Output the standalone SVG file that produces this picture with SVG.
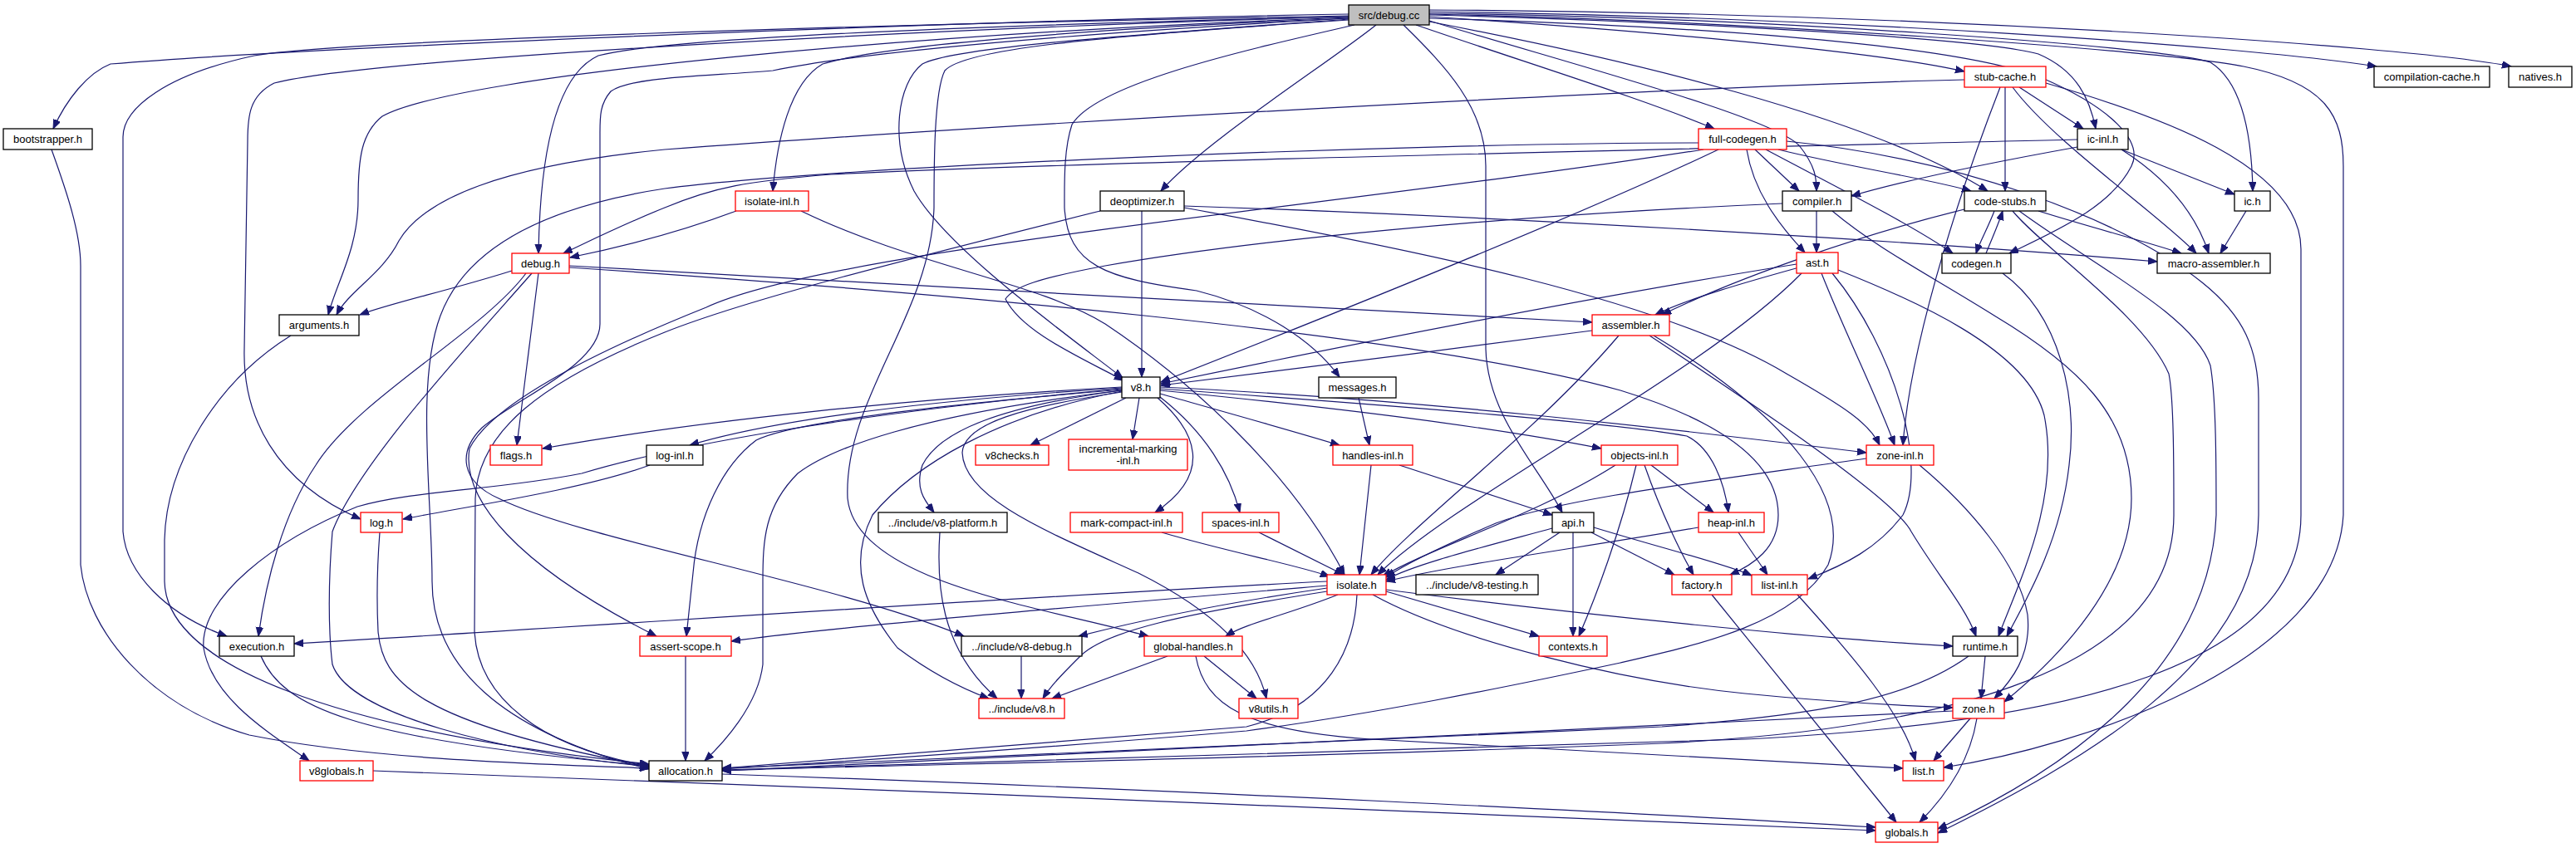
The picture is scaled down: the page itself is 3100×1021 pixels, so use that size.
<svg xmlns="http://www.w3.org/2000/svg" width="3100" height="1021" viewBox="0 0 3100 1021">
<style>
.n rect{fill:#fff;stroke:#000;stroke-width:1.3}
.r rect{stroke:#f00}
.g rect{fill:#bfbfbf}
text{font-family:"Liberation Sans",Arial,sans-serif;font-size:13px;text-anchor:middle;fill:#000}
.e path{fill:none;stroke:#191970;stroke-width:1.2;marker-end:url(#a)}
</style>
<defs>
<marker id="a" markerWidth="13" markerHeight="10" refX="11" refY="4.25" orient="auto" markerUnits="userSpaceOnUse"><path d="M0,0 L11,4.25 L0,8.5 z" fill="#191970" stroke="#191970" stroke-width="1"/></marker>
</defs>
<rect width="3100" height="1021" fill="#fff"/>
<g class="e" id="edges">
<path d="M1623,17 C1200,24 400,55 133,77 C105,88 80,120 64,155"/>
<path d="M1623,19 C1000,30 400,50 306,67 C200,90 148,130 148,165 L148,640 C152,690 200,740 273,766"/>
<path d="M1623,20 C1100,35 450,70 330,100 C300,115 298,140 298,170 L294,420 C292,500 330,580 434,625"/>
<path d="M1623,21 C1100,40 550,90 460,140 C435,160 431,190 431,240 C431,300 405,340 395,379"/>
<path d="M1623,20 C1200,30 800,45 720,67 C670,90 650,180 648,305"/>
<path d="M1623,22 C1300,40 1050,60 930,85 C850,92 760,92 735,110 C722,125 722,140 722,160 L722,390 C722,440 620,480 580,515 C550,545 555,580 600,600 C700,650 1000,700 1160,766"/>
<path d="M1623,22 C1300,35 1060,55 990,77 C950,100 935,170 930,230"/>
<path d="M1623,23 C1400,40 1150,55 1110,77 C1080,100 1070,170 1100,230 C1140,300 1280,400 1351,455"/>
<path d="M1623,24 C1300,45 1160,60 1137,85 C1124,110 1124,200 1124,250 C1120,380 1015,480 1020,600 C1030,700 1250,730 1382,766"/>
<path d="M1630,30 C1500,60 1320,100 1290,150 C1280,180 1281,220 1281,250 C1285,320 1330,335 1440,350 C1520,370 1580,410 1612,454"/>
<path d="M1656,30 C1600,75 1450,170 1397,230"/>
<path d="M1689,30 C1740,80 1788,130 1788,200 L1788,420 C1790,500 1850,560 1880,617"/>
<path d="M1704,30 C1850,80 1980,120 2063,155"/>
<path d="M1720,25 C1900,80 2130,140 2165,175 C2185,200 2186,215 2186,230"/>
<path d="M1720,20 C1950,35 2250,60 2364,86"/>
<path d="M1720,26 C1950,70 2250,140 2392,230"/>
<path d="M1720,22 C2000,30 2350,50 2460,95 C2540,130 2580,170 2565,200 C2540,250 2470,280 2418,305"/>
<path d="M1720,18 C2000,25 2380,45 2453,65 C2500,85 2515,120 2522,155"/>
<path d="M1720,16 C2100,20 2600,55 2660,75 C2700,100 2710,170 2711,230"/>
<path d="M1720,14 C2200,20 2700,55 2860,80"/>
<path d="M1720,12 C2300,15 2900,55 3022,80"/>
<path d="M1720,17 C2100,25 2600,60 2700,80 C2800,100 2820,140 2820,200 L2820,620 C2810,800 2500,900 2339,924"/>
<path d="M62,180 C80,230 97,280 97,320 L97,680 C105,760 180,850 300,885 C450,915 650,920 781,925"/>
<path d="M2364,96 C2000,105 1200,150 800,180 C600,200 510,240 480,290 C460,330 420,350 405,379"/>
<path d="M616,326 C540,350 470,365 433,379"/>
<path d="M886,254 C830,275 760,295 686,310"/>
<path d="M2500,168 C2000,180 1300,195 1000,210 C900,218 860,225 800,250 C750,270 710,290 678,305"/>
<path d="M2500,177 C2400,195 2300,215 2228,236"/>
<path d="M2553,180 L2689,234"/>
<path d="M2553,180 C2600,210 2640,250 2658,305"/>
<path d="M2703,254 L2672,305"/>
<path d="M2430,105 L2507,155"/>
<path d="M2413,105 L2413,230"/>
<path d="M2422,105 C2470,170 2600,260 2643,305"/>
<path d="M2407,105 C2370,200 2300,400 2290,536"/>
<path d="M2462,100 C2600,140 2769,200 2769,300 L2769,620 C2769,800 2500,870 2100,890 C1500,910 1000,920 869,927"/>
<path d="M2400,254 C2392,275 2383,290 2378,305"/>
<path d="M2390,305 C2398,285 2405,270 2410,254"/>
<path d="M2453,254 C2520,275 2580,290 2625,305"/>
<path d="M2364,252 C2250,280 2100,330 2000,379"/>
<path d="M2422,254 C2460,300 2580,380 2610,450 C2616,480 2616,560 2616,620 C2616,820 2300,880 2000,895 C1500,915 1000,922 869,928"/>
<path d="M2430,254 C2520,320 2640,380 2660,440 C2667,480 2667,560 2667,620 C2660,800 2500,920 2332,998"/>
<path d="M2410,329 C2480,380 2500,480 2490,560 C2480,650 2440,720 2415,766"/>
<path d="M2140,180 C2220,200 2320,215 2372,230"/>
<path d="M2125,180 C2200,220 2300,270 2350,305"/>
<path d="M2112,180 L2165,230"/>
<path d="M2102,180 C2110,230 2140,270 2172,304"/>
<path d="M2068,180 C1900,260 1600,380 1397,460"/>
<path d="M2044,172 C1700,172 1000,200 800,227 C650,250 560,300 530,380 C500,460 520,600 520,700 C520,800 600,880 781,926"/>
<path d="M2050,180 C1600,250 1000,300 850,370 C700,430 590,490 565,540 C555,600 620,680 790,766"/>
<path d="M2150,170 C2350,190 2550,260 2650,340 C2700,380 2718,420 2718,480 L2718,620 C2718,800 2500,920 2332,1003"/>
<path d="M2186,254 L2186,304"/>
<path d="M2205,254 C2260,300 2320,330 2400,380 C2500,440 2565,500 2565,600 C2565,700 2480,790 2412,845"/>
<path d="M2145,245 C1800,260 1500,290 1330,320 C1250,335 1220,345 1210,360 C1230,400 1300,430 1352,458"/>
<path d="M2165,322 C2100,340 2030,360 1992,379"/>
<path d="M2162,318 C1900,360 1600,420 1397,462"/>
<path d="M2168,329 C2050,450 1750,600 1658,692"/>
<path d="M2192,329 C2220,400 2260,480 2280,536"/>
<path d="M2205,329 C2280,420 2320,560 2290,620 C2260,660 2220,680 2176,697"/>
<path d="M2212,325 C2300,360 2440,420 2460,500 C2480,600 2430,700 2405,766"/>
<path d="M1916,398 C1750,420 1550,445 1397,464"/>
<path d="M1948,404 C1850,520 1700,630 1650,692"/>
<path d="M1985,404 C2100,480 2280,600 2300,640 C2330,690 2365,730 2378,766"/>
<path d="M1990,404 C2150,500 2230,600 2200,680 C2160,750 2050,775 1950,798 C1800,830 1650,860 1500,880 C1200,905 1000,918 869,926"/>
<path d="M1374,254 L1374,454"/>
<path d="M1425,248 C1800,260 2300,290 2596,315"/>
<path d="M1425,250 C1700,300 2000,360 2150,450 C2220,490 2250,510 2262,536"/>
<path d="M1324,254 C1100,310 900,360 800,400 C650,460 575,520 572,600 L571,760 C575,840 650,900 781,922"/>
<path d="M964,254 C1100,320 1250,340 1330,390 C1420,450 1550,560 1618,692"/>
<path d="M1635,479 L1648,536"/>
<path d="M1684,560 L1868,620"/>
<path d="M1650,560 L1636,692"/>
<path d="M1944,560 C1850,620 1720,660 1664,694"/>
<path d="M1969,560 C1950,640 1920,720 1900,766"/>
<path d="M1979,560 C2000,620 2025,670 2038,692"/>
<path d="M1987,560 L2062,617"/>
<path d="M2044,635 C1900,660 1750,680 1668,700"/>
<path d="M2092,641 L2127,692"/>
<path d="M2246,552 C2050,580 1880,600 1800,630 C1730,660 1690,680 1668,695"/>
<path d="M2310,560 C2370,610 2430,680 2440,740 C2445,790 2420,820 2400,841"/>
<path d="M1868,636 C1780,660 1700,680 1668,698"/>
<path d="M1877,641 L1800,692"/>
<path d="M1893,641 L1893,766"/>
<path d="M1915,641 L2015,692"/>
<path d="M1918,635 C2000,660 2080,680 2108,693"/>
<path d="M1398,641 C1480,665 1560,680 1600,694"/>
<path d="M1515,641 L1617,692"/>
<path d="M1350,466 C1100,480 850,505 653,540"/>
<path d="M1350,467 C1150,480 950,500 830,536"/>
<path d="M1350,468 C1000,500 800,540 700,570 C600,590 500,590 430,610 C330,650 240,720 245,780 C255,840 320,880 372,916"/>
<path d="M1350,469 C1100,490 950,510 910,530 C870,560 840,620 834,690 L826,766"/>
<path d="M1350,470 C1100,500 1000,540 960,570 C920,610 918,650 918,700 L918,800 C912,850 870,895 848,916"/>
<path d="M1350,471 C1200,500 1100,560 1050,620 C1020,680 1040,730 1080,780 C1120,810 1160,830 1190,841"/>
<path d="M1350,470 C1200,490 1130,520 1110,560 C1100,590 1115,605 1124,617"/>
<path d="M1355,479 L1240,536"/>
<path d="M1371,479 L1363,529"/>
<path d="M1393,479 C1440,520 1460,570 1390,617"/>
<path d="M1396,478 C1450,520 1480,570 1492,617"/>
<path d="M1396,474 C1470,495 1560,520 1612,536"/>
<path d="M1396,470 C1600,490 1800,515 1927,540"/>
<path d="M1396,466 C1700,480 2000,515 2246,545"/>
<path d="M1396,468 C1700,490 1950,510 2030,525 C2060,540 2075,580 2080,617"/>
<path d="M1350,472 C1230,490 1160,510 1158,545 C1160,600 1260,640 1370,690 C1450,730 1510,780 1524,841"/>
<path d="M782,560 C700,590 560,610 485,625"/>
<path d="M457,641 C454,680 453,720 455,760 C460,820 500,870 781,923"/>
<path d="M633,329 C580,400 430,480 380,560 C340,620 320,700 311,766"/>
<path d="M640,329 C560,420 430,560 400,640 C395,700 395,760 400,800 C420,860 600,905 781,923"/>
<path d="M648,329 L622,536"/>
<path d="M685,320 C1000,340 1600,370 1916,388"/>
<path d="M685,322 C1100,350 1700,400 1950,470 C2080,510 2140,560 2140,620 C2140,660 2110,680 2082,692"/>
<path d="M350,404 C260,460 200,560 198,650 L198,700 C200,800 400,880 781,920"/>
<path d="M314,790 C340,850 420,890 781,922"/>
<path d="M825,790 L825,916"/>
<path d="M449,928 C1000,950 2000,985 2257,1000"/>
<path d="M869,932 C1400,950 2000,980 2257,996"/>
<path d="M1597,700 C1200,720 700,755 354,775"/>
<path d="M1597,705 C1300,730 1000,755 880,772"/>
<path d="M1597,708 C1480,725 1380,745 1298,766"/>
<path d="M1597,712 C1420,740 1330,760 1300,790 C1280,810 1265,825 1255,841"/>
<path d="M1610,716 C1550,740 1500,750 1475,766"/>
<path d="M1668,712 L1852,766"/>
<path d="M1668,710 C1900,740 2200,770 2350,778"/>
<path d="M1652,716 C1750,770 1950,820 2100,835 C2200,845 2300,850 2350,852"/>
<path d="M1633,716 C1630,780 1600,850 1500,875 C1200,900 1000,915 869,925"/>
<path d="M1229,790 L1229,841"/>
<path d="M1131,641 C1127,700 1130,780 1200,841"/>
<path d="M1405,790 L1266,841"/>
<path d="M1449,790 L1512,841"/>
<path d="M1439,790 C1450,850 1500,880 1650,890 C1900,905 2150,918 2290,925"/>
<path d="M2060,716 L2282,990"/>
<path d="M2163,716 C2230,790 2290,860 2305,916"/>
<path d="M2371,865 L2327,916"/>
<path d="M2379,865 C2370,920 2340,960 2310,990"/>
<path d="M2350,856 C1900,880 1300,905 869,928"/>
<path d="M2369,790 C2300,840 2200,860 2000,875 C1500,900 1000,918 869,925"/>
<path d="M2389,790 L2384,841"/>
</g>
<g id="n_dc" class="n g"><rect x="1623" y="6" width="97" height="24"/><text x="1671.5" y="22.5">src/debug.cc</text></g>
<g id="n_boot" class="n"><rect x="4" y="155" width="107" height="25"/><text x="57.5" y="172">bootstrapper.h</text></g>
<g id="n_debugh" class="n r"><rect x="616" y="305" width="69" height="24"/><text x="650.5" y="321.5">debug.h</text></g>
<g id="n_isoinl" class="n r"><rect x="885" y="230" width="88" height="24"/><text x="929" y="246.5">isolate-inl.h</text></g>
<g id="n_deopt" class="n"><rect x="1324" y="230" width="101" height="24"/><text x="1374.5" y="246.5">deoptimizer.h</text></g>
<g id="n_fcg" class="n r"><rect x="2044" y="155" width="106" height="25"/><text x="2097" y="172">full-codegen.h</text></g>
<g id="n_compiler" class="n"><rect x="2145" y="230" width="83" height="24"/><text x="2186.5" y="246.5">compiler.h</text></g>
<g id="n_ast" class="n r"><rect x="2162" y="304" width="50" height="25"/><text x="2187" y="321">ast.h</text></g>
<g id="n_stubc" class="n r"><rect x="2364" y="80" width="98" height="25"/><text x="2413" y="97">stub-cache.h</text></g>
<g id="n_ccache" class="n"><rect x="2857" y="80" width="139" height="25"/><text x="2926.5" y="97">compilation-cache.h</text></g>
<g id="n_natives" class="n"><rect x="3019" y="80" width="76" height="25"/><text x="3057" y="97">natives.h</text></g>
<g id="n_icinl" class="n"><rect x="2500" y="155" width="61" height="25"/><text x="2530.5" y="172">ic-inl.h</text></g>
<g id="n_cstubs" class="n"><rect x="2364" y="230" width="98" height="24"/><text x="2413" y="246.5">code-stubs.h</text></g>
<g id="n_ic" class="n"><rect x="2689" y="230" width="43" height="24"/><text x="2710.5" y="246.5">ic.h</text></g>
<g id="n_codegen" class="n"><rect x="2337" y="305" width="83" height="24"/><text x="2378.5" y="321.5">codegen.h</text></g>
<g id="n_masm" class="n"><rect x="2596" y="305" width="136" height="24"/><text x="2664" y="321.5">macro-assembler.h</text></g>
<g id="n_args" class="n"><rect x="336" y="379" width="96" height="25"/><text x="384" y="396">arguments.h</text></g>
<g id="n_asm" class="n r"><rect x="1916" y="379" width="93" height="25"/><text x="1962.5" y="396">assembler.h</text></g>
<g id="n_v8h" class="n"><rect x="1350" y="454" width="46" height="25"/><text x="1373" y="471">v8.h</text></g>
<g id="n_msgs" class="n"><rect x="1587" y="454" width="93" height="25"/><text x="1633.5" y="471">messages.h</text></g>
<g id="n_flags" class="n r"><rect x="590" y="536" width="62" height="24"/><text x="621" y="552.5">flags.h</text></g>
<g id="n_loginl" class="n"><rect x="778" y="536" width="68" height="24"/><text x="812" y="552.5">log-inl.h</text></g>
<g id="n_v8checks" class="n r"><rect x="1174" y="536" width="88" height="24"/><text x="1218" y="552.5">v8checks.h</text></g>
<g id="n_incmark" class="n r"><rect x="1286" y="529" width="143" height="37"/><text x="1357.5" y="545">incremental-marking</text><text x="1357.5" y="559">-inl.h</text></g>
<g id="n_handinl" class="n r"><rect x="1604" y="536" width="96" height="24"/><text x="1652" y="552.5">handles-inl.h</text></g>
<g id="n_objinl" class="n r"><rect x="1927" y="536" width="92" height="24"/><text x="1973" y="552.5">objects-inl.h</text></g>
<g id="n_zoneinl" class="n r"><rect x="2246" y="536" width="81" height="24"/><text x="2286.5" y="552.5">zone-inl.h</text></g>
<g id="n_log" class="n r"><rect x="434" y="617" width="50" height="24"/><text x="459" y="633.5">log.h</text></g>
<g id="n_v8plat" class="n"><rect x="1057" y="617" width="155" height="24"/><text x="1134.5" y="633.5">../include/v8-platform.h</text></g>
<g id="n_mcinl" class="n r"><rect x="1288" y="617" width="135" height="24"/><text x="1355.5" y="633.5">mark-compact-inl.h</text></g>
<g id="n_spinl" class="n r"><rect x="1447" y="617" width="92" height="24"/><text x="1493" y="633.5">spaces-inl.h</text></g>
<g id="n_api" class="n"><rect x="1868" y="617" width="50" height="24"/><text x="1893" y="633.5">api.h</text></g>
<g id="n_heapinl" class="n r"><rect x="2044" y="617" width="79" height="24"/><text x="2083.5" y="633.5">heap-inl.h</text></g>
<g id="n_iso" class="n r"><rect x="1597" y="692" width="71" height="24"/><text x="1632.5" y="708.5">isolate.h</text></g>
<g id="n_v8test" class="n"><rect x="1704" y="692" width="147" height="24"/><text x="1777.5" y="708.5">../include/v8-testing.h</text></g>
<g id="n_factory" class="n r"><rect x="2012" y="692" width="72" height="24"/><text x="2048" y="708.5">factory.h</text></g>
<g id="n_listinl" class="n r"><rect x="2108" y="692" width="67" height="24"/><text x="2141.5" y="708.5">list-inl.h</text></g>
<g id="n_exec" class="n"><rect x="264" y="766" width="90" height="24"/><text x="309" y="782.5">execution.h</text></g>
<g id="n_assertsc" class="n r"><rect x="770" y="766" width="110" height="24"/><text x="825" y="782.5">assert-scope.h</text></g>
<g id="n_v8dbg" class="n"><rect x="1157" y="766" width="145" height="24"/><text x="1229.5" y="782.5">../include/v8-debug.h</text></g>
<g id="n_gh" class="n r"><rect x="1377" y="766" width="118" height="24"/><text x="1436" y="782.5">global-handles.h</text></g>
<g id="n_contexts" class="n r"><rect x="1852" y="766" width="82" height="24"/><text x="1893" y="782.5">contexts.h</text></g>
<g id="n_runtime" class="n"><rect x="2350" y="766" width="78" height="24"/><text x="2389" y="782.5">runtime.h</text></g>
<g id="n_incv8" class="n r"><rect x="1178" y="841" width="103" height="24"/><text x="1229.5" y="857.5">../include/v8.h</text></g>
<g id="n_v8utils" class="n r"><rect x="1491" y="841" width="71" height="24"/><text x="1526.5" y="857.5">v8utils.h</text></g>
<g id="n_zone" class="n r"><rect x="2350" y="841" width="62" height="24"/><text x="2381" y="857.5">zone.h</text></g>
<g id="n_v8glob" class="n r"><rect x="361" y="916" width="88" height="24"/><text x="405" y="932.5">v8globals.h</text></g>
<g id="n_alloc" class="n"><rect x="781" y="916" width="88" height="24"/><text x="825" y="932.5">allocation.h</text></g>
<g id="n_list" class="n r"><rect x="2290" y="916" width="49" height="24"/><text x="2314.5" y="932.5">list.h</text></g>
<g id="n_globals" class="n r"><rect x="2257" y="990" width="75" height="24"/><text x="2294.5" y="1006.5">globals.h</text></g>
</svg>
